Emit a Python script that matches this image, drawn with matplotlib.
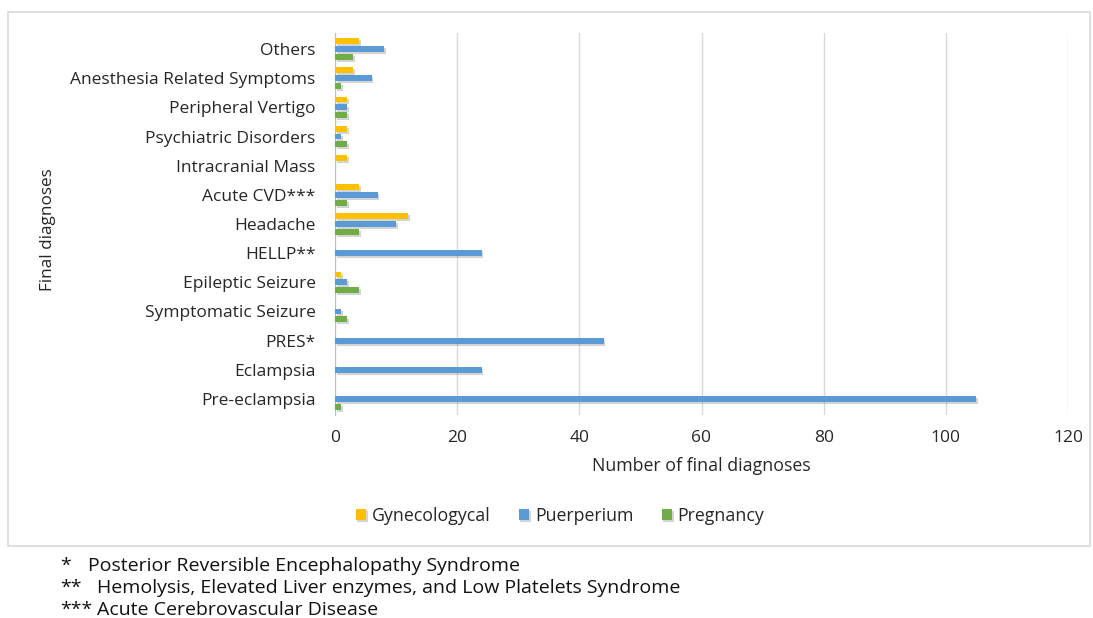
import matplotlib.pyplot as plt
import matplotlib.patheffects as pe
from matplotlib.patches import Rectangle
import numpy as np

plt.rcParams['font.family'] = ['Open Sans', 'DejaVu Sans']

categories = ["Pre-eclampsia", "Eclampsia", "PRES*", "Symptomatic Seizure",
              "Epileptic Seizure", "HELLP**", "Headache", "Acute CVD***",
              "Intracranial Mass", "Psychiatric Disorders", "Peripheral Vertigo",
              "Anesthesia Related Symptoms", "Others"]
gynecological = [0, 0, 0, 0, 1, 0, 12, 4, 2, 2, 2, 3, 4]
puerperium = [105, 24, 44, 1, 2, 24, 10, 7, 0, 1, 2, 6, 8]
pregnancy = [1, 0, 0, 2, 4, 0, 4, 2, 0, 2, 2, 1, 3]
series_names = ["Gynecologycal", "Puerperium", "Pregnancy"]
x_ticks = [0, 20, 40, 60, 80, 100, 120]

colors = ["#FFC000", "#5B9BD5", "#70AD47"]
text_color = "#262626"

fig = plt.figure(figsize=(10.93, 6.18), dpi=100)
fig.patch.set_facecolor("white")

# outer chart frame
fig.add_artist(Rectangle((8 / 1093, 1 - 546 / 618), (1090 - 8) / 1093, (546 - 12) / 618,
                         transform=fig.transFigure, fill=False,
                         edgecolor="#D9D9D9", linewidth=1.2))

ax = fig.add_axes([335 / 1093, 1 - 415 / 618, (1068 - 335) / 1093, (415 - 33) / 618])
y = np.arange(len(categories))
offset = 0.27
h = 0.2
shadow = [pe.SimplePatchShadow(offset=(1.2, -1.5), alpha=0.25, shadow_rgbFace="#555555"), pe.Normal()]
for vals, off, c, name in zip([gynecological, puerperium, pregnancy],
                              [offset, 0, -offset], colors, series_names):
    bars = ax.barh(y + off, vals, height=h, color=c, label=name, zorder=3)
    for b in bars:
        b.set_path_effects(shadow)

ax.set_xlim(0, 120)
ax.set_ylim(-0.55, len(categories) - 0.45)
ax.set_xticks(x_ticks)
ax.set_yticks(y)
ax.set_yticklabels(categories, fontsize=12.5, color=text_color)
ax.tick_params(axis="x", labelsize=12.5, colors=text_color, length=0, pad=11)
ax.tick_params(axis="y", length=0, pad=14)
ax.grid(axis="x", color="#D9D9D9", linewidth=1, zorder=0)
for s in ["top", "right", "bottom"]:
    ax.spines[s].set_visible(False)
ax.spines["left"].set_color("#BFBFBF")
ax.set_xlabel("Number of final diagnoses", fontsize=12.8, color=text_color, labelpad=8)
fig.text(48 / 1093, 1 - 230 / 618, "Final diagnoses", rotation=90, fontsize=12.3,
         color=text_color, ha="center", va="center")

handles, labels = ax.get_legend_handles_labels()
fig.legend(handles, labels, loc="center", bbox_to_anchor=(560 / 1093, 1 - 516 / 618),
           ncol=3, frameon=False, fontsize=12.8, handlelength=0.6, handleheight=0.6,
           handletextpad=0.3, columnspacing=1.6, labelcolor=text_color)

notes = ["*", "**", "***"]
texts = ["Posterior Reversible Encephalopathy Syndrome",
         "Hemolysis, Elevated Liver enzymes, and Low Platelets Syndrome",
         "Acute Cerebrovascular Disease"]
text_x = [88, 97, 97]
for i, (n, t) in enumerate(zip(notes, texts)):
    yy = 1 - (566 + i * 22) / 618
    fig.text(60 / 1093, yy, n, fontsize=14, color="#111111", va="center")
    fig.text(text_x[i] / 1093, yy, t, fontsize=14, color="#111111", va="center")

fig.savefig("out.png", dpi=100, facecolor="white")
